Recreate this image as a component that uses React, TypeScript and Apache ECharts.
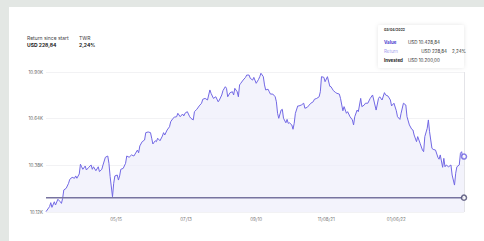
import React, { useEffect, useRef } from "react";
import * as echarts from "echarts";

// day offset from start (03/17/2021) and portfolio value (USD)
const days = [
  0, 3, 4, 5, 7, 8, 10, 12, 13, 14,
  15, 17, 19, 20, 22, 24, 25, 26, 28, 29,
  30, 31, 33, 34, 36, 38, 39, 40, 42, 44,
  45, 47, 48, 50, 52, 53, 54, 56, 57, 58,
  60, 61, 62, 63, 65, 67, 68, 70, 72, 74,
  75, 77, 78, 79, 81, 83, 84, 86, 88, 89,
  90, 92, 93, 94, 96, 98, 99, 100, 102, 104,
  105, 107, 108, 110, 111, 113, 115, 116, 117, 119,
  121, 122, 124, 125, 127, 129, 131, 132, 134, 136,
  138, 139, 141, 143, 145, 146, 148, 149, 151, 152,
  153, 155, 157, 158, 159, 161, 162, 163, 164, 166,
  168, 169, 171, 172, 174, 175, 177, 179, 180, 181,
  183, 184, 185, 187, 188, 189, 191, 193, 194, 195,
  196, 198, 199, 200, 202, 203, 204, 205, 207, 208,
  209, 210, 212, 213, 215, 217, 218, 220, 221, 223,
  225, 226, 228, 230, 231, 232, 234, 235, 237, 239,
  240, 242, 244, 245, 247, 248, 250, 251, 253, 254,
  256, 258, 259, 260, 262, 263, 265, 266, 268, 269,
  271, 273, 275, 276, 278, 280, 281, 283, 285, 286,
  288, 290, 291, 293, 295, 296, 298, 299, 301, 303,
  304, 306, 308, 309, 310, 312, 313, 315, 317, 318,
  319, 321, 322, 323, 325, 326, 328, 330, 331, 332,
  334, 335, 336, 337, 339, 341, 342, 344, 345, 346,
  348, 349, 350, 351, 352,
];

const values = [
  10122, 10150, 10172, 10146, 10177, 10159, 10191, 10177, 10168, 10196,
  10243, 10252, 10280, 10302, 10313, 10308, 10321, 10308, 10332, 10386,
  10372, 10358, 10376, 10354, 10369, 10382, 10358, 10372, 10350, 10372,
  10345, 10358, 10382, 10425, 10432, 10391, 10317, 10205, 10280, 10321,
  10326, 10298, 10321, 10358, 10363, 10391, 10432, 10425, 10438, 10432,
  10443, 10465, 10450, 10488, 10512, 10521, 10562, 10566, 10562, 10531,
  10499, 10517, 10512, 10531, 10517, 10543, 10562, 10549, 10577, 10595,
  10623, 10642, 10648, 10651, 10670, 10651, 10666, 10655, 10670, 10679,
  10651, 10642, 10633, 10679, 10692, 10711, 10726, 10748, 10753, 10744,
  10800, 10781, 10753, 10762, 10734, 10744, 10772, 10796, 10818, 10809,
  10762, 10785, 10790, 10772, 10809, 10790, 10762, 10828, 10837, 10855,
  10870, 10883, 10883, 10865, 10855, 10870, 10837, 10859, 10874, 10893,
  10874, 10828, 10800, 10804, 10790, 10777, 10777, 10762, 10734, 10670,
  10642, 10688, 10692, 10642, 10617, 10636, 10614, 10617, 10605, 10581,
  10614, 10670, 10711, 10711, 10716, 10726, 10698, 10703, 10711, 10726,
  10734, 10748, 10753, 10762, 10790, 10874, 10870, 10846, 10874, 10820,
  10818, 10796, 10785, 10781, 10777, 10753, 10684, 10707, 10670, 10679,
  10651, 10633, 10605, 10651, 10688, 10679, 10753, 10707, 10716, 10726,
  10726, 10753, 10772, 10744, 10688, 10753, 10762, 10744, 10785, 10772,
  10766, 10744, 10711, 10726, 10684, 10651, 10636, 10670, 10726, 10716,
  10651, 10605, 10581, 10577, 10549, 10512, 10540, 10503, 10465, 10456,
  10540, 10586, 10633, 10567, 10475, 10469, 10465, 10425, 10414, 10438,
  10369, 10419, 10372, 10382, 10372, 10382, 10326, 10270, 10336, 10372,
  10382, 10447, 10456, 10419, 10428.84,
];

const invested = 10200;
const yTicks = [10120, 10380, 10640, 10900];
const xTickDays = [59, 118, 177, 236, 295];
const xTickLabels = ["05/15", "07/13", "09/10", "11/08/21", "01/06/22"];

const FONT = "Inter, 'Noto Sans', sans-serif";

export default function App() {
  const ref = useRef<HTMLDivElement>(null);

  useEffect(() => {
    if (!ref.current) return;
    const chart = echarts.init(ref.current, null, { renderer: "svg" });
    const lastDay = days[days.length - 1];
    const lastVal = values[values.length - 1];
    const valueData = days.map((d, i) => [d, values[i]]);
    const investedData = [
      [days[0], invested],
      [lastDay, invested],
    ];

    chart.setOption({
      animation: false,
      backgroundColor: "#e3e7e4",
      textStyle: { fontFamily: FONT },
      grid: { left: 46, right: 20, top: 72, bottom: 29, containLabel: false },
      xAxis: {
        type: "value",
        min: 0,
        max: lastDay,
        interval: 59,
        axisLine: { show: false },
        axisTick: { show: false },
        splitLine: { show: false },
        axisLabel: {
          showMinLabel: false,
          showMaxLabel: false,
          fontSize: 4.5,
          color: "#777",
          margin: 5,
          fontFamily: FONT,
          formatter: (v: number) => {
            const i = xTickDays.indexOf(v);
            return i >= 0 ? xTickLabels[i] : "";
          },
        },
      },
      yAxis: {
        type: "value",
        min: yTicks[0],
        max: yTicks[yTicks.length - 1],
        axisLine: { show: false },
        axisTick: { show: false, customValues: yTicks },
        splitLine: { show: true, lineStyle: { color: "#f2f2f4", width: 1 } },
        axisLabel: {
          customValues: yTicks,
          fontSize: 4.5,
          color: "#666",
          margin: 3,
          fontFamily: FONT,
          formatter: (v: number) => (v / 1000).toFixed(2) + "K",
        },
      },
      graphic: [
        {
          type: "rect",
          z: -10,
          silent: true,
          shape: { x: 9, y: 7, width: 475, height: 234 },
          style: { fill: "#ffffff" },
        },
        {
          type: "text",
          x: 27,
          y: 35,
          style: { text: "Return since start", fontSize: 5, fill: "#444", fontFamily: FONT },
        },
        {
          type: "text",
          x: 27,
          y: 42,
          style: { text: "USD 228,84", fontSize: 5, fontWeight: "bold", fill: "#222", fontFamily: FONT },
        },
        {
          type: "text",
          x: 79,
          y: 35,
          style: { text: "TWR", fontSize: 5, fill: "#444", fontFamily: FONT },
        },
        {
          type: "text",
          x: 79,
          y: 42,
          style: { text: "2,24%", fontSize: 5, fontWeight: "bold", fill: "#222", fontFamily: FONT },
        },
        {
          type: "rect",
          shape: { x: 378, y: 25, width: 86, height: 43, r: 2 },
          style: {
            fill: "#ffffff",
            shadowBlur: 4,
            shadowColor: "rgba(0,0,0,0.10)",
          },
        },
        {
          type: "text",
          x: 384,
          y: 28,
          style: { text: "03/04/2022", fontSize: 3.5, fontWeight: "bold", fill: "#333", fontFamily: FONT },
        },
        {
          type: "text",
          x: 384,
          y: 40,
          style: { text: "Value", fontSize: 4.5, fontWeight: "bold", fill: "#4b42cf", fontFamily: FONT },
        },
        {
          type: "text",
          x: 408,
          y: 40,
          style: { text: "USD 10.428,84", fontSize: 4.5, fill: "#333", fontFamily: FONT },
        },
        {
          type: "text",
          x: 384,
          y: 49,
          style: { text: "Return", fontSize: 4.5, fill: "#a7a2ee", fontFamily: FONT },
        },
        {
          type: "text",
          x: 447,
          y: 49,
          style: { text: "USD 228,84", fontSize: 4.5, fill: "#333", align: "right", fontFamily: FONT },
        },
        {
          type: "text",
          x: 452,
          y: 49,
          style: { text: "2,24%", fontSize: 4.5, fill: "#333", fontFamily: FONT },
        },
        {
          type: "text",
          x: 384,
          y: 58,
          style: { text: "Invested", fontSize: 4.5, fontWeight: "bold", fill: "#222", fontFamily: FONT },
        },
        {
          type: "text",
          x: 408,
          y: 58,
          style: { text: "USD 10.200,00", fontSize: 4.5, fill: "#333", fontFamily: FONT },
        },
      ],
      series: [
        {
          type: "line",
          data: valueData,
          showSymbol: false,
          lineStyle: { color: "#7268e4", width: 1 },
          areaStyle: { color: "#eeeefb", origin: "start" },
          z: 2,
        },
        {
          type: "line",
          data: investedData,
          showSymbol: false,
          lineStyle: { color: "#77739f", width: 1.5 },
          z: 3,
          markLine: {
            silent: true,
            symbol: "none",
            label: { show: false },
            lineStyle: { color: "#e4e4e8", width: 1, type: "solid" },
            data: [{ xAxis: lastDay }],
          },
        },
        {
          type: "scatter",
          data: [[lastDay, lastVal]],
          symbol: "circle",
          symbolSize: 5,
          itemStyle: { color: "#ffffff", borderColor: "#6a5fe0", borderWidth: 1.5 },
          z: 5,
        },
        {
          type: "scatter",
          data: [[lastDay, invested]],
          symbol: "circle",
          symbolSize: 5,
          itemStyle: { color: "#ffffff", borderColor: "#4a4870", borderWidth: 1.5 },
          z: 5,
        },
      ],
    });

    return () => chart.dispose();
  }, []);

  return (
    <div
      ref={ref}
      style={{ position: "fixed", left: 0, top: 0, width: 484, height: 241 }}
    />
  );
}
